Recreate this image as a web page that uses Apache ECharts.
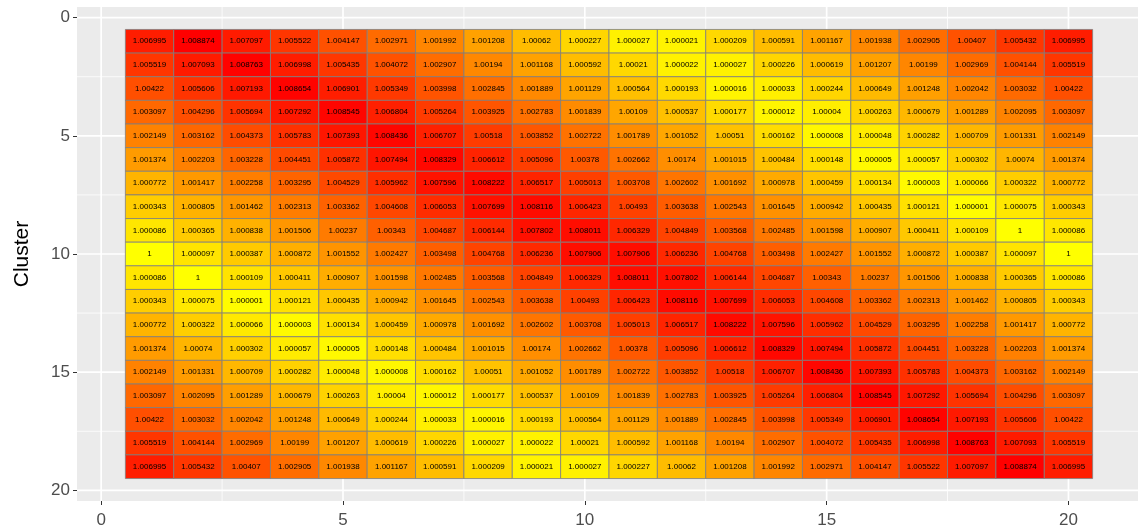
<!DOCTYPE html>
<html>
<head>
<meta charset="utf-8">
<script src="https://cdn.jsdelivr.net/npm/echarts@6/dist/echarts.min.js"></script>
<style>
  html, body { margin: 0; padding: 0; background: #ffffff; }
  #chart { width: 1138px; height: 529px; }
</style>
</head>
<body>
<div id="chart"></div>
<script>
// Cluster-by-cluster ratio matrix: one array per row (y = 1..19), 20 columns (x = 1..20)
const row1  = [1.006995, 1.008874, 1.007097, 1.005522, 1.004147, 1.002971, 1.001992, 1.001208, 1.00062, 1.000227, 1.000027, 1.000021, 1.000209, 1.000591, 1.001167, 1.001938, 1.002905, 1.00407, 1.005432, 1.006995];
const row2  = [1.005519, 1.007093, 1.008763, 1.006998, 1.005435, 1.004072, 1.002907, 1.00194, 1.001168, 1.000592, 1.00021, 1.000022, 1.000027, 1.000226, 1.000619, 1.001207, 1.00199, 1.002969, 1.004144, 1.005519];
const row3  = [1.00422, 1.005606, 1.007193, 1.008654, 1.006901, 1.005349, 1.003998, 1.002845, 1.001889, 1.001129, 1.000564, 1.000193, 1.000016, 1.000033, 1.000244, 1.000649, 1.001248, 1.002042, 1.003032, 1.00422];
const row4  = [1.003097, 1.004296, 1.005694, 1.007292, 1.008545, 1.006804, 1.005264, 1.003925, 1.002783, 1.001839, 1.00109, 1.000537, 1.000177, 1.000012, 1.00004, 1.000263, 1.000679, 1.001289, 1.002095, 1.003097];
const row5  = [1.002149, 1.003162, 1.004373, 1.005783, 1.007393, 1.008436, 1.006707, 1.00518, 1.003852, 1.002722, 1.001789, 1.001052, 1.00051, 1.000162, 1.000008, 1.000048, 1.000282, 1.000709, 1.001331, 1.002149];
const row6  = [1.001374, 1.002203, 1.003228, 1.004451, 1.005872, 1.007494, 1.008329, 1.006612, 1.005096, 1.00378, 1.002662, 1.00174, 1.001015, 1.000484, 1.000148, 1.000005, 1.000057, 1.000302, 1.00074, 1.001374];
const row7  = [1.000772, 1.001417, 1.002258, 1.003295, 1.004529, 1.005962, 1.007596, 1.008222, 1.006517, 1.005013, 1.003708, 1.002602, 1.001692, 1.000978, 1.000459, 1.000134, 1.000003, 1.000066, 1.000322, 1.000772];
const row8  = [1.000343, 1.000805, 1.001462, 1.002313, 1.003362, 1.004608, 1.006053, 1.007699, 1.008116, 1.006423, 1.00493, 1.003638, 1.002543, 1.001645, 1.000942, 1.000435, 1.000121, 1.000001, 1.000075, 1.000343];
const row9  = [1.000086, 1.000365, 1.000838, 1.001506, 1.00237, 1.00343, 1.004687, 1.006144, 1.007802, 1.008011, 1.006329, 1.004849, 1.003568, 1.002485, 1.001598, 1.000907, 1.000411, 1.000109, 1, 1.000086];
const row10 = [1, 1.000097, 1.000387, 1.000872, 1.001552, 1.002427, 1.003498, 1.004768, 1.006236, 1.007906, 1.007906, 1.006236, 1.004768, 1.003498, 1.002427, 1.001552, 1.000872, 1.000387, 1.000097, 1];
const row11 = [1.000086, 1, 1.000109, 1.000411, 1.000907, 1.001598, 1.002485, 1.003568, 1.004849, 1.006329, 1.008011, 1.007802, 1.006144, 1.004687, 1.00343, 1.00237, 1.001506, 1.000838, 1.000365, 1.000086];
const row12 = [1.000343, 1.000075, 1.000001, 1.000121, 1.000435, 1.000942, 1.001645, 1.002543, 1.003638, 1.00493, 1.006423, 1.008116, 1.007699, 1.006053, 1.004608, 1.003362, 1.002313, 1.001462, 1.000805, 1.000343];
const row13 = [1.000772, 1.000322, 1.000066, 1.000003, 1.000134, 1.000459, 1.000978, 1.001692, 1.002602, 1.003708, 1.005013, 1.006517, 1.008222, 1.007596, 1.005962, 1.004529, 1.003295, 1.002258, 1.001417, 1.000772];
const row14 = [1.001374, 1.00074, 1.000302, 1.000057, 1.000005, 1.000148, 1.000484, 1.001015, 1.00174, 1.002662, 1.00378, 1.005096, 1.006612, 1.008329, 1.007494, 1.005872, 1.004451, 1.003228, 1.002203, 1.001374];
const row15 = [1.002149, 1.001331, 1.000709, 1.000282, 1.000048, 1.000008, 1.000162, 1.00051, 1.001052, 1.001789, 1.002722, 1.003852, 1.00518, 1.006707, 1.008436, 1.007393, 1.005783, 1.004373, 1.003162, 1.002149];
const row16 = [1.003097, 1.002095, 1.001289, 1.000679, 1.000263, 1.00004, 1.000012, 1.000177, 1.000537, 1.00109, 1.001839, 1.002783, 1.003925, 1.005264, 1.006804, 1.008545, 1.007292, 1.005694, 1.004296, 1.003097];
const row17 = [1.00422, 1.003032, 1.002042, 1.001248, 1.000649, 1.000244, 1.000033, 1.000016, 1.000193, 1.000564, 1.001129, 1.001889, 1.002845, 1.003998, 1.005349, 1.006901, 1.008654, 1.007193, 1.005606, 1.00422];
const row18 = [1.005519, 1.004144, 1.002969, 1.00199, 1.001207, 1.000619, 1.000226, 1.000027, 1.000022, 1.00021, 1.000592, 1.001168, 1.00194, 1.002907, 1.004072, 1.005435, 1.006998, 1.008763, 1.007093, 1.005519];
const row19 = [1.006995, 1.005432, 1.00407, 1.002905, 1.001938, 1.001167, 1.000591, 1.000209, 1.000021, 1.000027, 1.000227, 1.00062, 1.001208, 1.001992, 1.002971, 1.004147, 1.005522, 1.007097, 1.008874, 1.006995];

const rows = [row1, row2, row3, row4, row5, row6, row7, row8, row9, row10,
              row11, row12, row13, row14, row15, row16, row17, row18, row19];

// Axis breaks
const xTickLabels = [0, 5, 10, 15, 20];
const yTickLabels = [0, 5, 10, 15, 20];
const minorBreaks = [2.5, 7.5, 12.5, 17.5];

// [x, y, value] triples for the tiles
const cells = [];
rows.forEach((r, i) => r.forEach((v, j) => cells.push([j + 1, i + 1, v])));

let vMin = Infinity, vMax = -Infinity;
cells.forEach(c => { vMin = Math.min(vMin, c[2]); vMax = Math.max(vMax, c[2]); });

// Yellow -> red fill scale on a square-root stretch of the value range
const lowColor = [255, 255, 0];
const highColor = [255, 0, 0];
function fillFor(v) {
  const s = Math.sqrt(Math.min(1, Math.max(0, (v - vMin) / (vMax - vMin))));
  const c = lowColor.map((lo, i) => Math.round(lo + (highColor[i] - lo) * s));
  return 'rgb(' + c.join(',') + ')';
}

const gridLines = minorBreaks.map(v => [v, 0]).concat(xTickLabels.map(v => [v, 1]));

const chart = echarts.init(document.getElementById('chart'), null, { renderer: 'canvas' });

const axisLabelStyle = { color: '#4d4d4d', fontSize: 17, fontFamily: 'Liberation Sans, Arial, sans-serif' };

chart.setOption({
  animation: false,
  backgroundColor: '#ffffff',
  grid: {
    left: 77, top: 7, width: 1064, height: 494,
    outerBoundsMode: 'none', containLabel: false,
    show: true, backgroundColor: '#ebebeb', borderWidth: 0
  },
  xAxis: {
    type: 'value', min: -0.5, max: 21.5,
    axisLine: { show: false, onZero: false },
    axisTick: { show: true, length: 4, lineStyle: { color: '#333333', width: 1 }, customValues: xTickLabels },
    axisLabel: Object.assign({ margin: 11, customValues: xTickLabels }, axisLabelStyle),
    splitLine: { show: false }
  },
  yAxis: {
    type: 'value', min: -0.45, max: 20.45, inverse: true,
    name: 'Cluster', nameLocation: 'middle', nameRotate: 90, nameGap: 44,
    nameTextStyle: { color: '#000000', fontSize: 21, fontFamily: 'Liberation Sans, Arial, sans-serif' },
    axisLine: { show: false, onZero: false },
    axisTick: { show: true, length: 4, lineStyle: { color: '#333333', width: 1 }, customValues: yTickLabels },
    axisLabel: Object.assign({ margin: 7, customValues: yTickLabels }, axisLabelStyle),
    splitLine: { show: false }
  },
  series: [
    {
      // vertical panel grid lines
      type: 'custom', z: 1, silent: true, clip: true,
      data: gridLines,
      renderItem: function (params, api) {
        const cs = params.coordSys;
        const x = api.coord([api.value(0), 0])[0];
        const major = api.value(1) === 1;
        return {
          type: 'line',
          shape: { x1: x, y1: cs.y, x2: x, y2: cs.y + cs.height },
          style: { stroke: '#ffffff', lineWidth: major ? 1.7 : 0.8 }
        };
      }
    },
    {
      // horizontal panel grid lines
      type: 'custom', z: 1, silent: true, clip: true,
      data: minorBreaks.map(v => [0, v, 0]).concat(yTickLabels.map(v => [0, v, 1])),
      encode: { x: 0, y: 1 },
      renderItem: function (params, api) {
        const cs = params.coordSys;
        const y = api.coord([0, api.value(1)])[1];
        const major = api.value(2) === 1;
        return {
          type: 'line',
          shape: { x1: cs.x, y1: y, x2: cs.x + cs.width, y2: y },
          style: { stroke: '#ffffff', lineWidth: major ? 1.7 : 0.8 }
        };
      }
    },
    {
      // tiles with value labels
      type: 'custom', z: 3, silent: true,
      data: cells,
      encode: { x: 0, y: 1 },
      renderItem: function (params, api) {
        const x = api.value(0), y = api.value(1), v = api.value(2);
        const p0 = api.coord([x - 0.5, y - 0.5]);
        const p1 = api.coord([x + 0.5, y + 0.5]);
        const cx = (p0[0] + p1[0]) / 2, cy = (p0[1] + p1[1]) / 2;
        return {
          type: 'group',
          children: [
            {
              type: 'rect',
              shape: { x: Math.min(p0[0], p1[0]), y: Math.min(p0[1], p1[1]), width: Math.abs(p1[0] - p0[0]), height: Math.abs(p1[1] - p0[1]) },
              style: { fill: fillFor(v), stroke: '#7f7f7f', lineWidth: 0.8 }
            },
            {
              type: 'text',
              style: {
                x: cx, y: cy, text: String(v), fill: '#000000',
                fontSize: 8, fontFamily: 'Liberation Sans, Arial, sans-serif',
                align: 'center', verticalAlign: 'middle'
              }
            }
          ]
        };
      }
    }
  ]
});
</script>
</body>
</html>
